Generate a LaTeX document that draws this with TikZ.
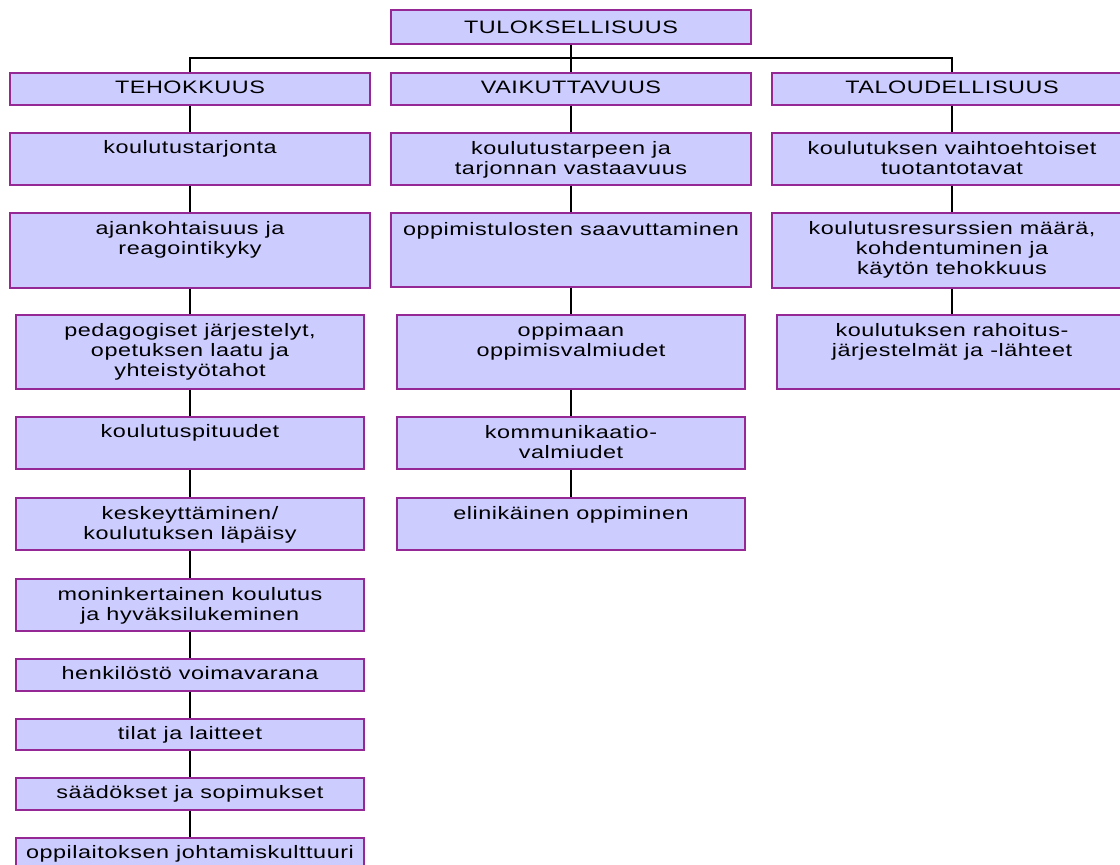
\documentclass[tikz,border=0pt]{standalone}
\usepackage{fontspec}
\setmainfont{Liberation Sans}
\newfontfamily\boxfont[FakeStretch=1.3,LetterSpace=3]{Liberation Sans}
\usepackage{xcolor}
\definecolor{box-fill}{RGB}{204,204,255}
\definecolor{box-edge}{RGB}{150,40,150}
\usepackage{tikz}
\newcommand{\cellbox}[4][22pt]{\parbox[c][#3][t]{#2}{\centering\rule{0pt}{#1}#4}}

\begin{document}
\begin{tikzpicture}[
	x=1pt, y=-1pt,
	box/.style={draw=box-edge, fill=box-fill, line width=1.5pt, inner sep=0pt,
		anchor=north, font=\boxfont\fontsize{18}{20}\selectfont},
	link/.style={line width=1.4pt, black}
	]

	\useasboundingbox (0,0) rectangle (1120,865);
	\clip (0,0) rectangle (1120,865);

	\coordinate (bar) at (571,58);

	% top and the three headings
	\node[box] (tul) at (571,9)  {\cellbox[24pt]{360pt}{34pt}{TULOKSELLISUUS}};
	\node[box] (teh) at (190,72) {\cellbox[21pt]{360pt}{32pt}{TEHOKKUUS}};
	\node[box] (vai) at (571,72) {\cellbox[21pt]{360pt}{32pt}{VAIKUTTAVUUS}};
	\node[box] (tal) at (952,72) {\cellbox[21pt]{360pt}{32pt}{TALOUDELLISUUS}};

	% TEHOKKUUS column
	\node[box] (t1)  at (190,132) {\cellbox[21pt]{360pt}{52pt}{koulutustarjonta}};
	\node[box] (t2)  at (190,212) {\cellbox{360pt}{75pt}{ajankohtaisuus ja\\ reagointikyky}};
	\node[box] (t3)  at (190,314) {\cellbox{348pt}{74pt}{pedagogiset järjestelyt,\\ opetuksen laatu ja\\ yhteistyötahot}};
	\node[box] (t4)  at (190,416) {\cellbox[21pt]{348pt}{52pt}{koulutuspituudet}};
	\node[box] (t5)  at (190,497) {\cellbox{348pt}{52pt}{keskeyttäminen/\\ koulutuksen läpäisy}};
	\node[box] (t6)  at (190,578) {\cellbox{348pt}{52pt}{moninkertainen koulutus\\ ja hyväksilukeminen}};
	\node[box] (t7)  at (190,658) {\cellbox[21pt]{348pt}{32pt}{henkilöstö voimavarana}};
	\node[box] (t8)  at (190,718) {\cellbox[21pt]{348pt}{31pt}{tilat ja laitteet}};
	\node[box] (t9)  at (190,777) {\cellbox[21pt]{348pt}{32pt}{säädökset ja sopimukset}};
	\node[box] (t10) at (190,837) {\cellbox[21pt]{348pt}{32pt}{oppilaitoksen johtamiskulttuuri}};

	% VAIKUTTAVUUS column
	\node[box] (v1) at (571,132) {\cellbox{360pt}{52pt}{koulutustarpeen ja\\ tarjonnan vastaavuus}};
	\node[box] (v2) at (571,212) {\cellbox[23pt]{360pt}{74pt}{oppimistulosten saavuttaminen}};
	\node[box] (v3) at (571,314) {\cellbox{348pt}{74pt}{oppimaan\\ oppimisvalmiudet}};
	\node[box] (v4) at (571,416) {\cellbox{348pt}{52pt}{kommunikaatio-\\ valmiudet}};
	\node[box] (v5) at (571,497) {\cellbox{348pt}{52pt}{elinikäinen oppiminen}};

	% TALOUDELLISUUS column
	\node[box] (l1) at (952,132) {\cellbox{360pt}{52pt}{koulutuksen vaihtoehtoiset\\ tuotantotavat}};
	\node[box] (l2) at (952,212) {\cellbox{360pt}{75pt}{koulutusresurssien määrä,\\ kohdentuminen ja\\ käytön tehokkuus}};
	\node[box] (l3) at (952,314) {\cellbox{350pt}{74pt}{koulutuksen rahoitus-\\ järjestelmät ja -lähteet}};

	\draw[link] (tul.south) -- (vai.north);
	\draw[link] (teh.north) |- (bar) -| (tal.north);

	\foreach \a/\b in {teh/t1, t1/t2, t2/t3, t3/t4, t4/t5, t5/t6, t6/t7, t7/t8, t8/t9, t9/t10,
		vai/v1, v1/v2, v2/v3, v3/v4, v4/v5, tal/l1, l1/l2, l2/l3}
		\draw[link] (\a.south) -- (\b.north);
\end{tikzpicture}
\end{document}
